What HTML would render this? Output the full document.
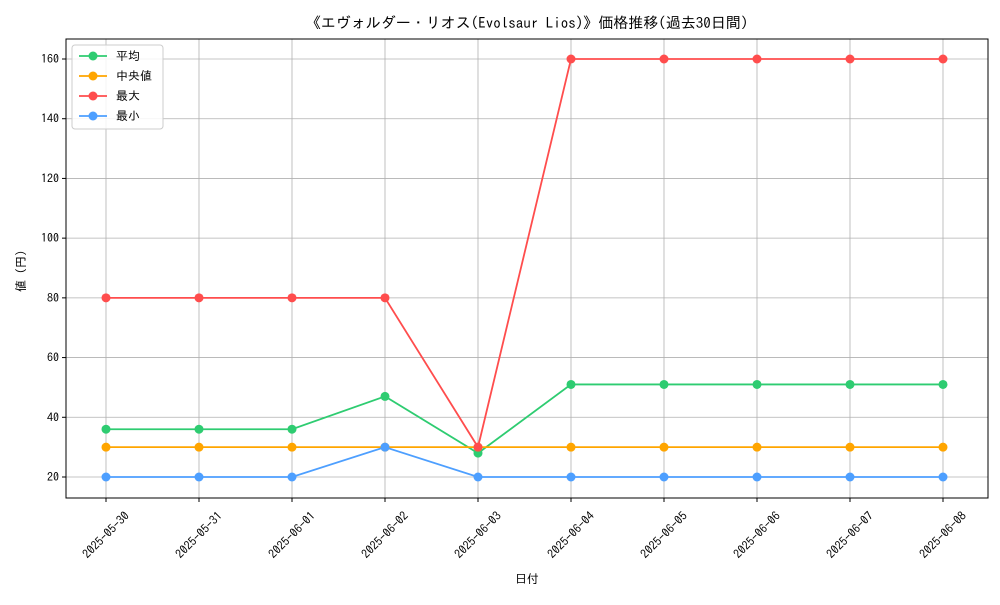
<!DOCTYPE html>
<html><head><meta charset="utf-8"><style>
body{margin:0;background:#fff;}
svg text{font-family:"IPAGothic","Liberation Mono","Noto Sans CJK JP",monospace;fill:#000;}
</style></head><body>
<svg id="chart" width="1000" height="600" xmlns="http://www.w3.org/2000/svg">
<rect x="0" y="0" width="1000" height="600" fill="#fff"/>
<text x="527" y="28" font-size="15" text-anchor="middle">《エヴォルダー・リオス(Evolsaur Lios)》価格推移(過去30日間)</text>
<g id="grid"></g><g id="axes"></g><g id="series"></g>
<text x="527" y="583" font-size="12" text-anchor="middle">日付</text>
<text transform="translate(25,268) rotate(-90)" font-size="12" text-anchor="middle">値（円）</text>
</svg>
<script>
const categories=["2025-05-30","2025-05-31","2025-06-01","2025-06-02","2025-06-03","2025-06-04","2025-06-05","2025-06-06","2025-06-07","2025-06-08"];
const avgValues=[36,36,36,47,28,51,51,51,51,51];
const medianValues=[30,30,30,30,30,30,30,30,30,30];
const maxValues=[80,80,80,80,30,160,160,160,160,160];
const minValues=[20,20,20,30,20,20,20,20,20,20];
const yTicks=[20,40,60,80,100,120,140,160];
const seriesNames=["平均","中央値","最大","最小"];
const NS="http://www.w3.org/2000/svg";
const L=66,R=988,T=39,B=498;
function xPos(i){return 106+i*(943-106)/(categories.length-1);}
function yPos(v){return 477-(v-20)*(418/140);}
function mk(tag,attrs,parent){const e=document.createElementNS(NS,tag);for(const k in attrs)e.setAttribute(k,attrs[k]);parent.appendChild(e);return e;}
const grid=document.getElementById('grid'),axes=document.getElementById('axes'),ser=document.getElementById('series');
categories.forEach((c,i)=>{
 const g=mk('line',{x1:xPos(i),x2:xPos(i),y1:T,y2:B,stroke:'#b0b0b0','stroke-width':0.8},grid);
 
 
 mk('line',{x1:xPos(i),x2:xPos(i),y1:B,y2:B+4,stroke:'#000'},axes);
 const cx=xPos(i), cy=535;
 const t=mk('text',{x:cx,y:cy+4,'font-size':12,'text-anchor':'middle',transform:`rotate(-45 ${cx} ${cy})`},axes);
 
 
 t.textContent=c;
});
yTicks.forEach(v=>{
 const g=mk('line',{x1:L,x2:R,y1:yPos(v),y2:yPos(v),stroke:'#b0b0b0','stroke-width':0.8},grid);
 
 
 mk('line',{x1:L-4,x2:L,y1:yPos(v),y2:yPos(v),stroke:'#000'},axes);
 const t=mk('text',{x:L-7,y:yPos(v)+4,'font-size':12,'text-anchor':'end'},axes);
 
 
 t.textContent=v;
});
const frame=mk('rect',{x:L,y:T,width:R-L,height:B-T,fill:'none',stroke:'#000','stroke-width':1},axes);


const all=[[avgValues,'#2ecc71','avg'],[medianValues,'#ffa500','median'],[maxValues,'#ff4d4d','max'],[minValues,'#4d9fff','min']];
all.forEach(([vals,col,n])=>{
 const g=mk('g',{},ser);
 
 
 const p=mk('polyline',{points:vals.map((v,i)=>xPos(i)+','+yPos(v)).join(' '),fill:'none',stroke:col,'stroke-width':1.8},g);
 
 
 vals.forEach((v,i)=>{const c=mk('circle',{cx:xPos(i),cy:yPos(v),r:4.5,fill:col},g);
  
  });
});
const lg=mk('g',{},document.getElementById('chart'));


mk('rect',{x:72,y:45,width:91,height:84,rx:3,fill:'#fff','fill-opacity':0.85,stroke:'#ccc'},lg);
all.forEach(([v,col,n],k)=>{
 const y=56+k*20;
 const e=mk('g',{},lg);
 
 
 mk('line',{x1:79,x2:107,y1:y,y2:y,stroke:col,'stroke-width':1.8},e);
 mk('circle',{cx:93,cy:y,r:4.5,fill:col},e);
 const t=mk('text',{x:116,y:y+4,'font-size':12},e);
 t.textContent=seriesNames[k];
});
</script>
</body></html>
